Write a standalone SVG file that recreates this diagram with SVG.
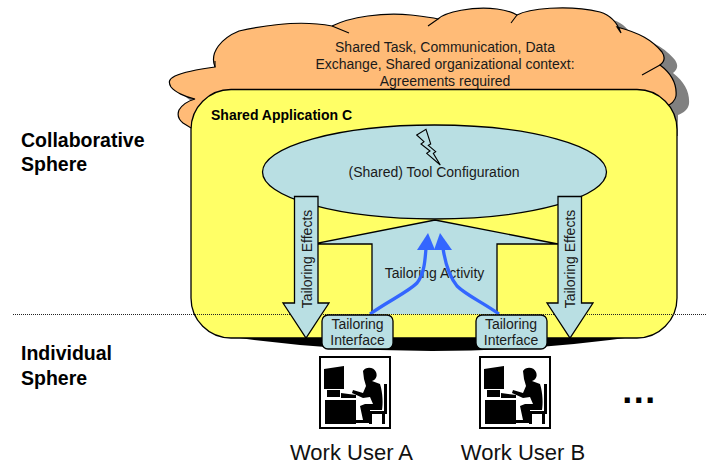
<svg xmlns="http://www.w3.org/2000/svg" width="707" height="468" viewBox="0 0 707 468">
<style>
text{font-family:"Liberation Sans",Arial,sans-serif;fill:#1a1a1a}
.s{font-size:14px}
.b{font-weight:bold;font-size:19.5px;fill:#000}
.u{font-size:22px;fill:#111}
.o{stroke:#000;stroke-width:1.3;fill:#b9dfe3}
.fig{fill:#000}
</style>
<defs>
<path id="cloud" d="M215 67C209 52 222 38 239 31C270 24 301 20 332 26C350 17 383 12 411 15C420 16 430 17 438 19C445 12 473 6 497 9C505 10 512 12 517 15C528 9 566 4 600 12C610 15 617 22 621 33L617 27C640 33 652 40 662 52C666 58 664 62 660 65C672 74 677 85 676 96C675 102 670 105 665 107L665 128H191L183 123C178 119 177 115 179 110C182 105 188 101 195 99C185 97 175 92 171 87C168 82 169 79 175 76C186 71 200 69 215 67Z"/>
<g id="user">
<rect x="0" y="0" width="70" height="71" fill="#fff" stroke="#000" stroke-width="2"/>
<path class="fig" d="M4 12L24 9V32H4ZM7 33H20V40H7ZM21 36L36 38V41H21ZM5 43H36V67H5Z"/>
<path class="fig" d="M43 14C46 9 54 10 56 15C58 20 55 23 52 24L60 27C63 36 63 48 62 53H50V66H36V63H43L40 49L45 47H53L50 40L43 41L32 36L33 33L43 36L46 29L44 22Z"/>
<path class="fig" d="M64 27H67V54H64ZM47 54H67V57H47ZM49 57H52V67H49ZM62 57H65V67H62Z"/>
</g>
</defs>
<g id="cloud-node">
<use href="#cloud" transform="translate(13 8)" fill="#808080"/>
<use href="#cloud" fill="#ffbb77" stroke="#000" stroke-width="1.2"/>
<path d="M332 26L349 33M438 19L428 26M517 15L511 23M660 65L642 75M215 67L215 61" fill="none" stroke="#000" stroke-width="1.1"/>
<text class="s" x="445" y="52" text-anchor="middle">Shared Task, Communication, Data</text>
<text class="s" x="445" y="69" text-anchor="middle">Exchange, Shared organizational context:</text>
<text class="s" x="445" y="86" text-anchor="middle">Agreements required</text>
</g>
<g id="individual-base">
<path d="M225 336Q432 366 640 336Z" fill="#000"/>
</g>
<g id="shared-application">
<rect x="191" y="89.500" width="486" height="248.500" rx="40" fill="#ffff66" stroke="#000" stroke-width="1.3"/>
<text x="211" y="120" font-size="14" font-weight="bold" style="fill:#000">Shared Application C</text>
</g>
<g id="boundary">
<line x1="13" y1="314.500" x2="707" y2="314.500" stroke="#222" stroke-width="1" stroke-dasharray="1 1"/>
</g>
<g id="tailoring-activity">
<path d="M318 243L435 220L558 244H497V314H372V244H318Z" fill="#b9dfe3"/>
<path d="M372 314V244H318L318 243L435 220L558 244H497V314" fill="none" stroke="#000" stroke-width="1.3"/>
<text class="s" x="434.500" y="278" text-anchor="middle">Tailoring Activity</text>
</g>
<g id="tool-config">
<ellipse cx="434.500" cy="172" rx="172" ry="47" class="o"/>
<text class="s" x="434" y="177" text-anchor="middle">(Shared) Tool Configuration</text>
<path d="M416.700 135L426 129.300L430.700 144L428.300 145.300L435.700 151.700L433.300 153.300L440.300 165L426.700 153.300L430 151L421 144L424 141.700Z" fill="#b9dfe3" stroke="#000" stroke-width="1.1"/>
</g>
<g id="effects-left">
<path class="o" d="M294.500 196.500H318V303H329L306 338L283 303H294.500Z"/>
<text class="s" x="0" y="0" text-anchor="middle" transform="translate(312 259) rotate(-90)">Tailoring Effects</text>
</g>
<g id="effects-right">
<path class="o" d="M558 196.500H581.500V303H593L570 338L547 303H558Z"/>
<text class="s" x="0" y="0" text-anchor="middle" transform="translate(575 259) rotate(-90)">Tailoring Effects</text>
</g>
<g id="connectors" fill="none" stroke="#3366ff" stroke-width="3.300">
<path d="M370 314C390 300 408 292 417 283C424 274 425 262 426 248"/>
<path d="M499 314C482 302 466 295 457 286C449 276 445 262 443 248"/>
<path d="M428 233L417 250H435Z" fill="#3366ff" stroke="none"/>
<path d="M440 233L434 250H452Z" fill="#3366ff" stroke="none"/>
</g>
<g id="interface-a">
<rect x="322" y="315" width="71" height="34" rx="6" class="o"/>
<text class="s" x="357.500" y="329" text-anchor="middle">Tailoring</text>
<text class="s" x="357.500" y="345" text-anchor="middle">Interface</text>
</g>
<g id="interface-b">
<rect x="476" y="315" width="71" height="34" rx="6" class="o"/>
<text class="s" x="511" y="329" text-anchor="middle">Tailoring</text>
<text class="s" x="511" y="345" text-anchor="middle">Interface</text>
</g>
<g id="user-a">
<use href="#user" x="320" y="357"/>
<text class="u" x="351.500" y="460" text-anchor="middle">Work User A</text>
</g>
<g id="user-b">
<use href="#user" x="480" y="357"/>
<text class="u" x="523" y="460" text-anchor="middle">Work User B</text>
</g>
<g id="labels">
<text class="b" x="21" y="147">Collaborative</text>
<text class="b" x="21" y="171">Sphere</text>
<text class="b" x="21" y="360">Individual</text>
<text class="b" x="21" y="385">Sphere</text>
<text x="620.700" y="403" font-size="36" font-weight="bold" style="fill:#000">…</text>
</g>
</svg>
